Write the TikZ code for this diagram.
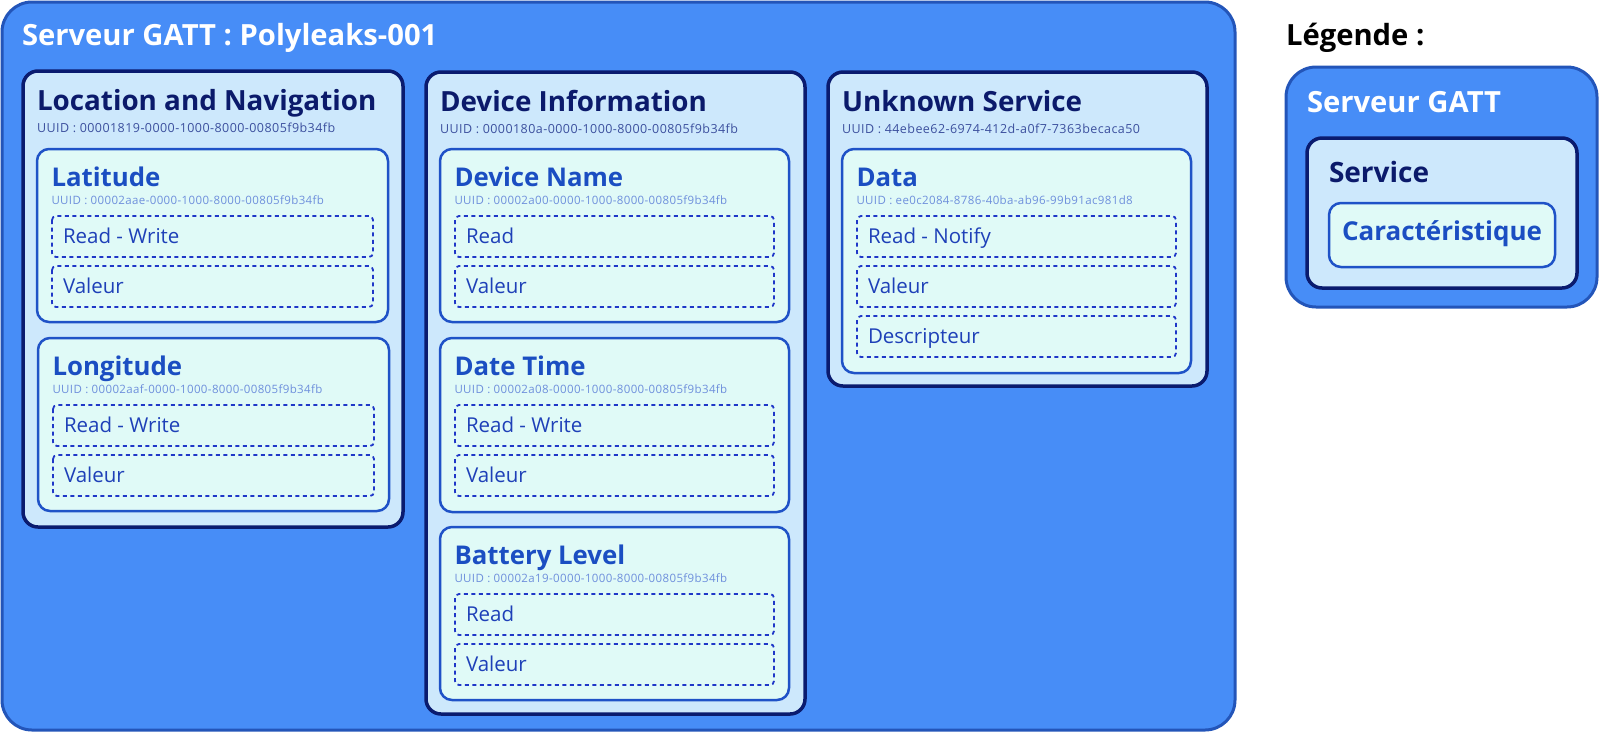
\documentclass[tikz,border=0pt]{standalone}
\usepackage{fontspec}
\setmainfont{Open Sans}
\definecolor{outerfill}{RGB}{71,141,247}
\definecolor{outerborder}{RGB}{35,85,185}
\definecolor{servfill}{RGB}{205,232,252}
\definecolor{servborder}{RGB}{10,27,111}
\definecolor{servtitle}{RGB}{11,26,107}
\definecolor{servuuid}{RGB}{60,80,158}
\definecolor{charfill}{RGB}{224,250,247}
\definecolor{charborder}{RGB}{31,82,199}
\definecolor{chartitle}{RGB}{27,78,194}
\definecolor{charuuid}{RGB}{110,143,220}
\definecolor{propborder}{RGB}{31,55,200}
\definecolor{proptext}{RGB}{30,64,184}
\tikzset{
  outerbox/.style={draw=outerborder, fill=outerfill, line width=3pt, rounded corners=30pt},
  servbox/.style={draw=servborder, fill=servfill, line width=3.5pt, rounded corners=15pt},
  charbx/.style={draw=charborder, fill=charfill, line width=2.5pt, rounded corners=12pt},
  propbx/.style={draw=propborder, line width=1.8pt, dash pattern=on 4pt off 3.5pt, rounded corners=4pt},
  txt/.style={anchor=base west, inner sep=0pt, outer sep=0pt},
  outertitle/.style={txt, text=white, font=\bfseries\fontsize{29.2}{34}\selectfont},
  servtitlestyle/.style={txt, text=servtitle, font=\bfseries\fontsize{27.8}{32}\selectfont},
  servuuidstyle/.style={txt, text=servuuid, font=\fontsize{12.5}{14}\selectfont\addfontfeature{LetterSpace=3.5}},
  chartitlestyle/.style={txt, text=chartitle, font=\bfseries\fontsize{25.8}{30}\selectfont},
  charuuidstyle/.style={txt, text=charuuid, font=\fontsize{11.5}{13}\selectfont\addfontfeature{LetterSpace=3.2}},
  proptextstyle/.style={txt, text=proptext, font=\fontsize{20.5}{24}\selectfont},
}
% service box: name, L, T, R, B, title, uuid
\newcommand{\servicebox}[7]{%
  \draw[servbox] (#2,#3) rectangle (#4,#5);
  \node[servtitlestyle] (#1-title) at (#2+14,#3+39) {#6};
  \node[servuuidstyle] (#1-uuid) at (#2+14,#3+61) {UUID : #7};
}
% characteristic box: name, L, T, R, B, title, uuid
\newcommand{\characbox}[7]{%
  \draw[charbx] (#2,#3) rectangle (#4,#5);
  \node[chartitlestyle] (#1-title) at (#2+14.5,#3+37) {#6};
  \node[charuuidstyle] (#1-uuid) at (#2+14.5,#3+55) {UUID : #7};
}
% property box: name, L, T, R, text
\newcommand{\propbox}[5]{%
  \draw[propbx] (#2,#3) rectangle (#4,#3+41);
  \node[proptextstyle] (#1) at (#2+11,#3+27) {#5};
}
\begin{document}
\begin{tikzpicture}[x=1pt,y=-1pt]
\useasboundingbox (0,0) rectangle (1600,732);
% outer server
\draw[outerbox] (2,2) rectangle (1235,730);
\node[outertitle] (server) at (22,45) {Serveur GATT : Polyleaks-001};

% Location and Navigation
\servicebox{loc}{23}{71}{403}{527}{Location and Navigation}{00001819-0000-1000-8000-00805f9b34fb}
\characbox{lat}{37}{149}{388}{322}{Latitude}{00002aae-0000-1000-8000-00805f9b34fb}
\propbox{lat-rw}{52}{216}{373}{Read - Write}
\propbox{lat-val}{52}{266}{373}{Valeur}
\characbox{lon}{38}{338}{389}{511}{Longitude}{00002aaf-0000-1000-8000-00805f9b34fb}
\propbox{lon-rw}{53}{405}{374}{Read - Write}
\propbox{lon-val}{53}{455}{374}{Valeur}

% Device Information
\servicebox{dev}{426}{72}{805}{714}{Device Information}{0000180a-0000-1000-8000-00805f9b34fb}
\characbox{name}{440}{149}{789}{322}{Device Name}{00002a00-0000-1000-8000-00805f9b34fb}
\propbox{name-r}{455}{216}{774}{Read}
\propbox{name-val}{455}{266}{774}{Valeur}
\characbox{date}{440}{338}{789}{512}{Date Time}{00002a08-0000-1000-8000-00805f9b34fb}
\propbox{date-rw}{455}{405}{774}{Read - Write}
\propbox{date-val}{455}{455}{774}{Valeur}
\characbox{batt}{440}{527}{789}{700}{Battery Level}{00002a19-0000-1000-8000-00805f9b34fb}
\propbox{batt-r}{455}{594}{774}{Read}
\propbox{batt-val}{455}{644}{774}{Valeur}

% Unknown Service
\servicebox{unk}{828}{72}{1207}{386}{Unknown Service}{44ebee62-6974-412d-a0f7-7363becaca50}
\characbox{data}{842}{149}{1191}{373}{Data}{ee0c2084-8786-40ba-ab96-99b91ac981d8}
\propbox{data-rn}{857}{216}{1176}{Read - Notify}
\propbox{data-val}{857}{266}{1176}{Valeur}
\propbox{data-desc}{857}{316}{1176}{Descripteur}

% Legend
\node[txt, text=black, font=\bfseries\fontsize{29.2}{34}\selectfont] (legend) at (1286,45) {Légende :};
\draw[outerbox] (1286,67) rectangle (1597,307);
\node[outertitle] (leg-server) at (1307,112) {Serveur GATT};
\draw[servbox] (1307,138) rectangle (1577,288);
\node[txt, text=servtitle, font=\bfseries\fontsize{28}{32}\selectfont] (leg-service) at (1329,182) {Service};
\draw[charbx] (1329,203) rectangle (1555,267);
\node[txt, text=chartitle, font=\bfseries\fontsize{26}{30}\selectfont] (leg-char) at (1342,240) {Caractéristique};
\end{tikzpicture}
\end{document}
